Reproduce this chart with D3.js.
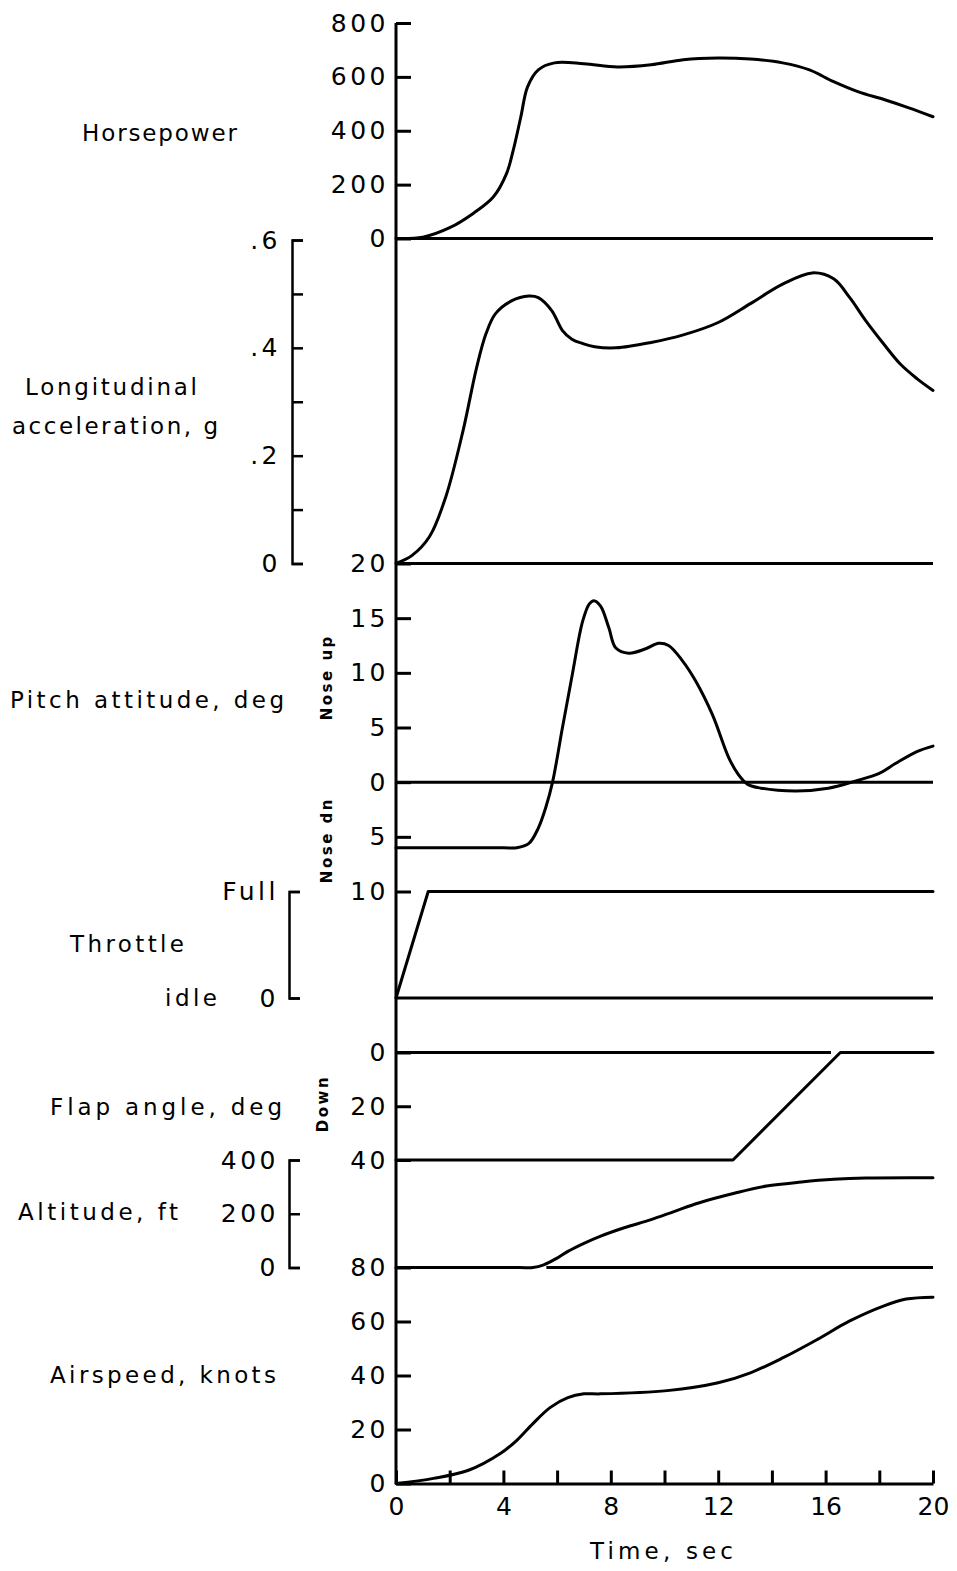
<!DOCTYPE html>
<html>
<head>
<meta charset="utf-8">
<script src="https://cdn.jsdelivr.net/npm/d3@7"></script>
<style>
  body { margin: 0; background: #fff; }
  svg text { font-family: "DejaVu Sans", sans-serif; fill: #000; }
  .label { font-size: 23px; }
  .tick text { font-size: 25px; letter-spacing: 3.5px; }
  .time-axis .tick text { letter-spacing: 0; }
  .small { font-size: 15px; font-weight: bold; letter-spacing: 2.5px; }
  .trace { fill: none; stroke: #000; stroke-width: 3; stroke-linejoin: round; stroke-linecap: round; }
  .base { stroke: #000; stroke-width: 3; }
  .domain, .tick line { stroke: #000; stroke-width: 3; }
  .bracket .domain, .bracket .tick line { stroke-width: 2.5; }
</style>
</head>
<body>
<script>
document.addEventListener("DOMContentLoaded", () => {

  // horsepower
  let hpTime = [0, 1, 2, 2.9, 3.63, 4.12, 4.37, 4.65, 4.9, 5.3, 5.9, 7, 8.25, 9.5, 10.7, 12, 13.2, 14.4, 15.4, 16.3, 17.2, 18.2, 19.1, 20];
  let hpValues = [0, 5, 40, 95, 155, 242, 329, 452, 563, 626, 652, 649, 637, 645, 664, 670, 666, 652, 626, 582, 545, 515, 485, 452];

  // longitudinal acceleration, g
  let accelTime = [0, 0.6, 1.25, 1.85, 2.5, 3.0, 3.35, 3.7, 4.3, 4.95, 5.3, 5.8, 6.2, 6.55, 6.95, 7.4, 8.2, 9.5, 10.7, 12, 13.2, 14.4, 15.5, 16.3, 16.9, 17.5, 18.15, 18.8, 19.4, 20];
  let accelValues = [0, 0.015, 0.05, 0.123, 0.247, 0.363, 0.426, 0.463, 0.487, 0.496, 0.493, 0.469, 0.432, 0.416, 0.408, 0.402, 0.4, 0.41, 0.424, 0.447, 0.482, 0.518, 0.539, 0.528, 0.493, 0.45, 0.408, 0.369, 0.343, 0.321];

  // pitch attitude, deg (nose up positive)
  let pitchTime = [0, 4.0, 4.5, 4.95, 5.3, 5.58, 5.83, 6.2, 6.57, 6.95, 7.2, 7.37, 7.62, 7.93, 8.18, 8.67, 9.3, 9.78, 10.15, 10.67, 11.15, 11.78, 12.4, 12.75, 13.1, 13.6, 14.9, 16.1, 17.1, 18, 18.6, 19.4, 20];
  let pitchValues = [-6, -6, -6, -5.6, -4.2, -2.3, 0, 5, 9.9, 14.7, 16.3, 16.6, 16.1, 14.1, 12.3, 11.8, 12.2, 12.7, 12.5, 11.1, 9.3, 6.2, 2.2, 0.7, -0.2, -0.55, -0.8, -0.55, 0.1, 0.8, 1.7, 2.8, 3.3];

  // throttle (0 = idle, 1 = full)
  let throttleTime = [0, 1.2, 20];
  let throttleValues = [0, 1, 1];

  // flap angle, deg down
  let flapTime = [0, 12.55, 16.55, 20];
  let flapValues = [40, 40, 0, 0];

  // altitude, ft
  let altTime = [0, 4.6, 5.1, 5.5, 6.0, 6.4, 7.0, 7.6, 8.5, 9.5, 10.4, 11.3, 12.6, 13.8, 15.1, 16.3, 17.5, 20];
  let altValues = [0, 0, 0, 10, 35, 60, 90, 116, 148, 178, 210, 241, 276, 303, 318, 328, 333, 334];

  // airspeed, knots
  let speedTime = [0, 1.4, 2.7, 3.9, 4.5, 5.1, 5.75, 6.4, 7.0, 7.6, 10.1, 12, 13.2, 14.4, 15.7, 16.9, 18.15, 19, 20];
  let speedValues = [0, 1.9, 4.9, 11.2, 16, 22.2, 28.2, 31.8, 33.2, 33.2, 34.4, 37.3, 41, 46.5, 53.4, 60.2, 65.7, 68.3, 69];

  // tick values
  let timeTicks = [0, 2, 4, 6, 8, 10, 12, 14, 16, 18, 20];
  let hpTicks = [0, 200, 400, 600, 800];
  let accelTicks = [0, 0.1, 0.2, 0.3, 0.4, 0.5, 0.6];
  let pitchTicks = [-10, -5, 0, 5, 10, 15, 20];
  let throttleTicks = [0, 1];
  let flapTicks = [0, 20, 40];
  let altTicks = [0, 200, 400];
  let speedTicks = [0, 20, 40, 60, 80];

  // spans of the zero lines that are drawn (time, sec)
  let flapZeroSpan = [0, 16.2];
  let altZeroSpan = [5.6, 20];

  let width = 957,
  height = 1571;

  let svg = d3.select("body").append("svg")
    .attr("width", width)
    .attr("height", height);

  //Scales
  const x = d3.scaleLinear().domain([0, 20]).range([396, 933]);
  const hpY = d3.scaleLinear().domain([0, 800]).range([238.5, 23]);
  const accelY = d3.scaleLinear().domain([0, 0.6]).range([563.5, 240]);
  const pitchY = d3.scaleLinear().domain([-10, 20]).range([891.5, 563.5]);
  const throttleY = d3.scaleLinear().domain([0, 1]).range([998, 891.5]);
  const flapY = d3.scaleLinear().domain([0, 40]).range([1052.5, 1160]);
  const altY = d3.scaleLinear().domain([0, 400]).range([1267.5, 1160]);
  const speedY = d3.scaleLinear().domain([0, 80]).range([1483.5, 1267.5]);

  //Zero lines
  const zeroLine = (span, yPos) => {
    svg.append("line")
      .attr("class", "base")
      .attr("x1", x(span[0]))
      .attr("x2", x(span[1]))
      .attr("y1", yPos)
      .attr("y2", yPos);
  };
  zeroLine([0, 20], hpY(0));
  zeroLine([0, 20], accelY(0));
  zeroLine([0, 20], pitchY(0));
  zeroLine([0, 20], throttleY(0));
  zeroLine(flapZeroSpan, flapY(0));
  zeroLine(altZeroSpan, altY(0));

  //Main vertical axis line
  svg.append("line")
    .attr("class", "base")
    .attr("x1", x(0))
    .attr("x2", x(0))
    .attr("y1", hpY(800))
    .attr("y2", speedY(0));

  //Main axis labels, ticks point inward
  const mainAxis = (scale, values, fmt) => {
    let g = svg.append("g")
      .attr("transform", "translate(" + x(0) + ",0)")
      .call(d3.axisLeft(scale)
        .tickValues(values)
        .tickSizeInner(-15)
        .tickSizeOuter(0)
        .tickPadding(7)
        .tickFormat(fmt || (d => d)));
    g.select(".domain").remove();
  };
  mainAxis(hpY, hpTicks);
  mainAxis(pitchY, pitchTicks, d => Math.abs(d));
  mainAxis(flapY, flapTicks);
  mainAxis(speedY, speedTicks);

  //Left bracket scales
  const bracket = (scale, values, xPos, fmt, padding) => {
    svg.append("g")
      .attr("class", "bracket")
      .attr("transform", "translate(" + xPos + ",0)")
      .call(d3.axisLeft(scale)
        .tickValues(values)
        .tickSizeInner(-11)
        .tickSizeOuter(-11)
        .tickPadding(padding)
        .tickFormat(fmt));
  };
  bracket(accelY, accelTicks, 292, d => {
    let v = Math.round(d * 10);
    if (v % 2 != 0) return "";
    return v == 0 ? "0" : "." + v;
  }, 11);
  bracket(throttleY, throttleTicks, 289, d => d == 1 ? "Full" : "0", 10);
  bracket(altY, altTicks, 289, d => d, 10);

  //Time axis, ticks point up
  svg.append("g")
    .attr("class", "time-axis")
    .attr("transform", "translate(0," + speedY(0) + ")")
    .call(d3.axisBottom(x)
      .tickValues(timeTicks)
      .tickSizeInner(-13)
      .tickSizeOuter(0)
      .tickPadding(14)
      .tickFormat(d => d % 4 == 0 ? d : ""));

  //Traces
  const trace = (times, values, yScale, curve) => {
    let line = d3.line()
      .x((d, i) => x(times[i]))
      .y(d => yScale(d))
      .curve(curve);
    svg.append("path")
      .datum(values)
      .attr("class", "trace")
      .attr("d", line);
  };
  const smooth = d3.curveCatmullRom.alpha(0.5);
  trace(hpTime, hpValues, hpY, smooth);
  trace(accelTime, accelValues, accelY, smooth);
  trace(pitchTime, pitchValues, pitchY, smooth);
  trace(throttleTime, throttleValues, throttleY, d3.curveLinear);
  trace(flapTime, flapValues, flapY, d3.curveLinear);
  trace(altTime, altValues, altY, smooth);
  trace(speedTime, speedValues, speedY, smooth);

  //Left labels, stretched to the lettering widths of the original
  const label = (text, xPos, yPos, len) => {
    svg.append("text")
      .attr("class", "label")
      .attr("x", xPos)
      .attr("y", yPos)
      .attr("textLength", len)
      .attr("lengthAdjust", "spacing")
      .text(text);
  };
  label("Horsepower", 82, 141, 155);
  label("Longitudinal", 25, 395, 172);
  label("acceleration, g", 12, 434, 206);
  label("Pitch attitude, deg", 10, 708, 274);
  label("Throttle", 70, 952, 114);
  label("idle", 165, 1006, 52);
  label("Flap angle, deg", 50, 1115, 232);
  label("Altitude, ft", 18, 1220, 160);
  label("Airspeed, knots", 50, 1383, 226);
  label("Time, sec", 590, 1559, 143);

  //Rotated small labels
  const sideLabel = (text, xPos, yPos) => {
    svg.append("text")
      .attr("class", "small")
      .attr("text-anchor", "middle")
      .attr("dy", "0.35em")
      .attr("transform", "translate(" + xPos + "," + yPos + ") rotate(-90)")
      .text(text);
  };
  sideLabel("Nose up", 327, pitchY(9.6));
  sideLabel("Nose dn", 327, pitchY(-5.3));
  sideLabel("Down", 323, flapY(19));

})
</script>
</body>
</html>
